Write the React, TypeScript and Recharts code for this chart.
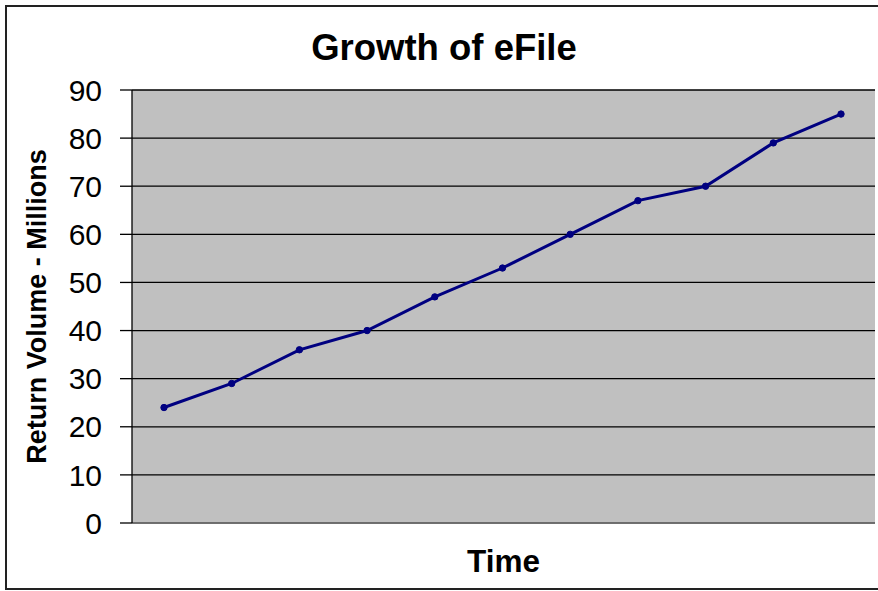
import React from 'react';
import { LineChart, Line, XAxis, YAxis, CartesianGrid, Label } from 'recharts';

const periods = ['1', '2', '3', '4', '5', '6', '7', '8', '9', '10', '11'];
const returnVolume = [24, 29, 36, 40, 47, 53, 60, 67, 70, 79, 85];
const yTicks = [0, 10, 20, 30, 40, 50, 60, 70, 80, 90];

const data = periods.map((p, i) => ({ period: p, volume: returnVolume[i] }));

const font = '"Liberation Sans", Arial, sans-serif';
const frame = { stroke: '#808080', strokeWidth: 1.5 };

const YLabel = (props: any) => {
  const { viewBox } = props;
  const cy = viewBox.y + viewBox.height / 2;
  return (
    <text
      x={37}
      y={cy}
      transform={`rotate(-90, 37, ${cy})`}
      textAnchor="middle"
      dominantBaseline="central"
      fontFamily={font}
      fontWeight="bold"
      fontSize={27}
      fill="#000"
    >
      Return Volume - Millions
    </text>
  );
};

const App: React.FC = () => {
  return (
    <div style={{ position: 'absolute', left: 0, top: 0, width: 878, height: 591, overflow: 'hidden', background: '#fff' }}>
      <div
        style={{
          position: 'absolute',
          left: 5,
          top: 5,
          width: 890,
          height: 585,
          border: '2px solid #222',
          boxSizing: 'border-box',
        }}
      />
      <div
        style={{
          position: 'absolute',
          left: 0,
          top: 27,
          width: 888,
          textAlign: 'center',
          fontFamily: font,
          fontWeight: 'bold',
          fontSize: 36.5,
        }}
      >
        Growth of eFile
      </div>
      <div style={{ position: 'absolute', left: 0, top: 0 }}>
        <LineChart width={878} height={591} data={data} margin={{ top: 90, right: 3, bottom: 0, left: 0 }}>
          <CartesianGrid vertical={false} fill="#C0C0C0" stroke="#000" strokeWidth={1.3} horizontalValues={yTicks} />
          <XAxis
            dataKey="period"
            height={68}
            padding={{ left: 32, right: 34 }}
            tick={false}
            tickLine={false}
            axisLine={frame}
          >
            <Label value="Time" position="insideTop" offset={27} fontFamily={font} fontWeight="bold" fontSize={31.5} fill="#000" />
          </XAxis>
          <XAxis xAxisId="top" orientation="top" dataKey="period" height={0} tick={false} tickLine={false} axisLine={frame} />
          <YAxis yAxisId="right" orientation="right" domain={[0, 90]} width={0} tick={false} tickLine={false} axisLine={frame} />
          <YAxis
            domain={[0, 90]}
            ticks={yTicks}
            width={132}
            tickSize={12}
            tickMargin={18}
            axisLine={{ stroke: '#000', strokeWidth: 1.3 }}
            tickLine={{ stroke: '#000', strokeWidth: 1.3 }}
            tick={{ fontFamily: font, fontSize: 30, fill: '#000' }}
          >
            <Label content={<YLabel />} />
          </YAxis>
          <Line
            type="linear"
            dataKey="volume"
            stroke="#000080"
            strokeWidth={3}
            dot={{ r: 3.2, fill: '#000080', stroke: '#000080', strokeWidth: 1 }}
            isAnimationActive={false}
          />
        </LineChart>
      </div>
    </div>
  );
};

export default App;
